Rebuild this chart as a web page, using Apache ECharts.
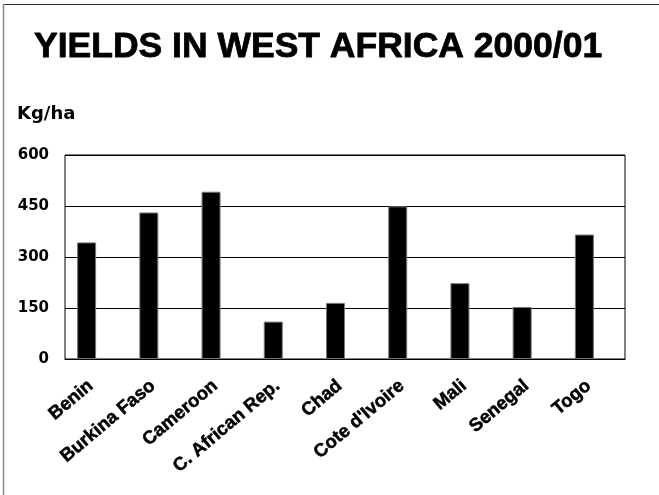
<!DOCTYPE html>
<html>
<head>
<meta charset="utf-8">
<script src="https://cdn.jsdelivr.net/npm/echarts@6/dist/echarts.min.js"></script>
<style>
    html, body { margin: 0; padding: 0; background: #fff; }
    #chart { width: 659px; height: 495px; }
</style>
</head>
<body>
<div id="chart"></div>
<script>
var countries = ['Benin', 'Burkina Faso', 'Cameroon', 'C. African Rep.', 'Chad',
    "Cote d'Ivoire", 'Mali', 'Senegal', 'Togo'];
var yields = [343, 431, 492, 110, 165, 449, 223, 153, 366];
var yTicks = [0, 150, 300, 450, 600];

var arial = '"Liberation Sans", Arial, sans-serif';
var wide = '"DejaVu Sans", "Liberation Sans", sans-serif';

var chart = echarts.init(document.getElementById('chart'));
chart.setOption({
    animation: false,
    backgroundColor: '#fff',
    title: {
        text: 'YIELDS IN WEST AFRICA 2000/01',
        left: 29,
        top: 24,
        textStyle: {
            fontFamily: arial, fontWeight: 'bold', fontSize: 35.5, color: '#000',
            textBorderColor: '#000', textBorderWidth: 0.8
        }
    },
    graphic: [
        { type: 'line', shape: { x1: 3, y1: 4.5, x2: 659, y2: 4.5 }, style: { stroke: '#333', lineWidth: 1 } },
        { type: 'line', shape: { x1: 3.5, y1: 4, x2: 3.5, y2: 495 }, style: { stroke: '#888', lineWidth: 1.5 } },
        { type: 'text', left: 17, top: 105, style: { text: 'Kg/ha', fontFamily: wide, fontWeight: 'bold', fontSize: 18, fill: '#000' } }
    ],
    grid: {
        left: 65, right: 34, top: 155, bottom: 136,
        show: true, borderColor: '#000', borderWidth: 1
    },
    xAxis: {
        type: 'category',
        data: countries,
        axisLine: { lineStyle: { color: '#000', width: 1 } },
        axisTick: { show: false },
        axisLabel: {
            rotate: 40, margin: 20, interval: 0, padding: [0, 7, 0, 0],
            fontFamily: arial, fontWeight: 'bold', fontSize: 18.5, color: '#000',
            textBorderColor: '#000', textBorderWidth: 0.5
        }
    },
    yAxis: {
        type: 'value',
        min: yTicks[0], max: yTicks[yTicks.length - 1], interval: 150,
        axisLine: { show: false },
        axisTick: { show: false },
        splitLine: { lineStyle: { color: '#000', width: 1 } },
        axisLabel: { margin: 16, fontFamily: wide, fontWeight: 'bold', fontSize: 15, color: '#000' }
    },
    series: [{
        type: 'bar',
        data: yields,
        barWidth: 19,
        barGap: '0%',
        itemStyle: { color: '#000', borderColor: '#777', borderWidth: 1 }
    }, {
        // empty second series, keeps the bars left of the category centre
        type: 'bar',
        data: [],
        barWidth: 19
    }]
});
</script>
</body>
</html>
